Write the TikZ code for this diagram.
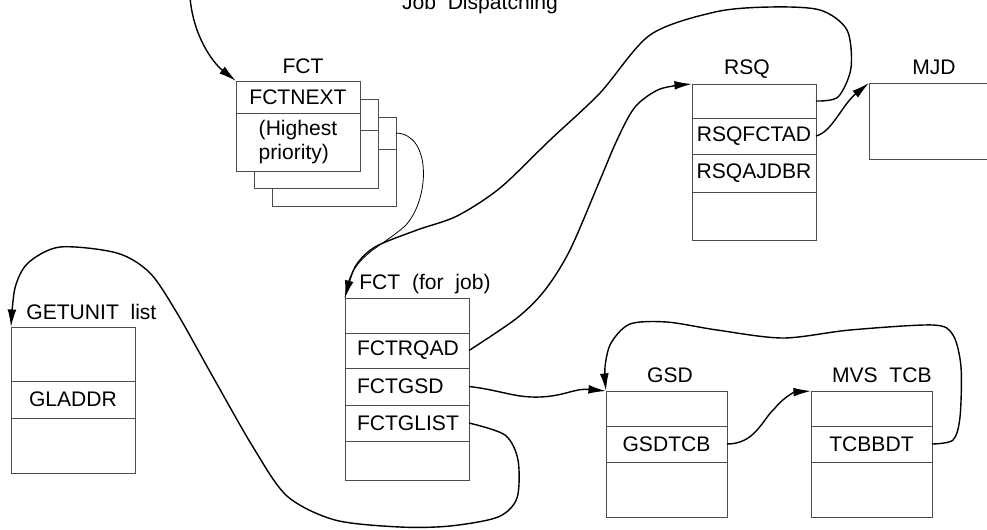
\documentclass[tikz,border=0pt]{standalone}
\usepackage{fontspec}
\setmainfont{Liberation Sans}
\usetikzlibrary{positioning, arrows.meta}

\tikzset{
  cell/.style={draw=black!70, line width=0.5pt, fill=white, minimum width=24.8mm, inner sep=0pt, outer sep=0pt, anchor=north west},
  leftcell/.style={cell, text width=20mm, inner xsep=2.4mm, align=left},
  lbl/.style={inner sep=0pt},
  link/.style={line width=0.8pt, -{Latex[length=10pt, width=5pt]}},
  thinlink/.style={line width=0.45pt}
}

\begin{document}
\begin{tikzpicture}[x=0.02cm, y=-0.02cm, font=\fontsize{12}{13.6}\selectfont]
\useasboundingbox (0,0) rectangle (987,529);

\node[lbl, anchor=base] (jobdisp) at (480,9) {Job\ \ Dispatching};
\coordinate (jobin) at (190,-3);

% FCT stack
\node[cell, minimum height=6.4mm] (fctC1) at (272,117) {};
\node[cell, minimum height=11.4mm, below=0pt of fctC1] (fctC2) {};
\node[cell, minimum height=6.2mm] (fctB1) at (254,99) {};
\node[cell, minimum height=11.6mm, below=0pt of fctB1] (fctB2) {};
\node[cell, minimum height=6.4mm] (fctA1) at (236,81) {FCTNEXT};
\node[cell, minimum height=11.6mm, below=0pt of fctA1, align=left] (fctA2) {(Highest\\priority)};
\node[lbl, anchor=base] (fctlbl) at (303,73) {FCT};

% RSQ and MJD
\node[cell, minimum height=6.8mm] (rsqA) at (692,84) {};
\node[cell, minimum height=7.2mm, below=0pt of rsqA] (rsqB) {RSQFCTAD};
\node[cell, minimum height=7.6mm, below=0pt of rsqB] (rsqC) {RSQAJDBR};
\node[cell, minimum height=9.6mm, below=0pt of rsqC] (rsqD) {};
\node[lbl, anchor=base] (rsqlbl) at (747,74) {RSQ};
\node[cell, minimum height=15.2mm, minimum width=30mm] (mjd) at (869,83) {};
\node[lbl, anchor=base] (mjdlbl) at (934,74) {MJD};

% FCT for job
\node[leftcell, minimum height=7mm] (jobA) at (345,298) {};
\node[leftcell, minimum height=7mm, below=0pt of jobA] (jobB) {FCTRQAD};
\node[leftcell, minimum height=7.4mm, below=0pt of jobB] (jobC) {FCTGSD};
\node[leftcell, minimum height=7.2mm, below=0pt of jobC] (jobD) {FCTGLIST};
\node[leftcell, minimum height=7.8mm, below=0pt of jobD] (jobE) {};
\node[lbl, anchor=base west] (joblbl) at (359,289) {FCT\ \ (for\ \ job)};

% GETUNIT list
\node[cell, minimum height=10.8mm] (getA) at (11,327) {};
\node[cell, minimum height=7.4mm, below=0pt of getA] (getB) {GLADDR};
\node[cell, minimum height=11mm, below=0pt of getB] (getC) {};
\node[lbl, anchor=base west] (getlbl) at (26,319) {GETUNIT\ \ list};

% GSD and MVS TCB
\node[cell, minimum width=24.2mm, minimum height=7mm] (gsdA) at (606,391) {};
\node[cell, minimum width=24.2mm, minimum height=7.2mm, below=0pt of gsdA] (gsdB) {GSDTCB};
\node[cell, minimum width=24.2mm, minimum height=11mm, below=0pt of gsdB] (gsdC) {};
\node[lbl, anchor=base] (gsdlbl) at (670,382) {GSD};
\node[cell, minimum width=24.2mm, minimum height=7mm] (mvsA) at (811,391) {};
\node[cell, minimum width=24.2mm, minimum height=7.2mm, below=0pt of mvsA] (mvsB) {TCBBDT};
\node[cell, minimum width=24.2mm, minimum height=11mm, below=0pt of mvsB] (mvsC) {};
\node[lbl, anchor=base east] (mvslbl) at (932,382) {MVS\ \ TCB};

% pointers
\draw[link] (jobin) .. controls (193,35) and (212,62) .. (fctA1.north west);
\draw[thinlink] (fctC1.east) .. controls (432,134) and (430,200) .. (405,226) .. controls (378,250) and (350,255) .. (jobA.north west);
\draw[link] plot[smooth] coordinates {(rsqA.east) (838,97) (851,68) (847,30) (820,10) (770,7) (715,12) (650,35) (600,93) (550,140) (500,188) (457,216) (417,230) (375,247) (355,267) (jobA.north west)};
\draw[link] plot[smooth] coordinates {(jobB.east) (517,318) (545,290) (570,250) (600,180) (617,140) (635,107) (660,89) (rsqA.north west)};
\draw[link] (rsqB.east) .. controls (832,132) and (842,105) .. (mjd.north west);
\draw[link] (jobC.east) .. controls (500,390) and (515,398) .. (540,397) .. controls (565,396) and (575,388) .. (gsdA.north west);
\draw[link] plot[smooth] coordinates {(jobD.east) (505,435) (518,460) (517,498) (498,517) (450,526) (400,527) (335,520) (287,496) (253,447) (213,377) (177,313) (150,273) (117,253) (60,247) (28,263) (15,288) (getA.north west)};
\draw[link] (gsdB.east) .. controls (755,444) and (762,420) .. (775,408) .. controls (785,396) and (795,392) .. (mvsA.north west);
\draw[link] plot[smooth] coordinates {(mvsB.east) (953,440) (960,417) (961,367) (953,335) (933,325) (850,330) (783,338) (717,330) (667,322) (630,324) (611,343) (605,367) (gsdA.north west)};
\end{tikzpicture}
\end{document}
